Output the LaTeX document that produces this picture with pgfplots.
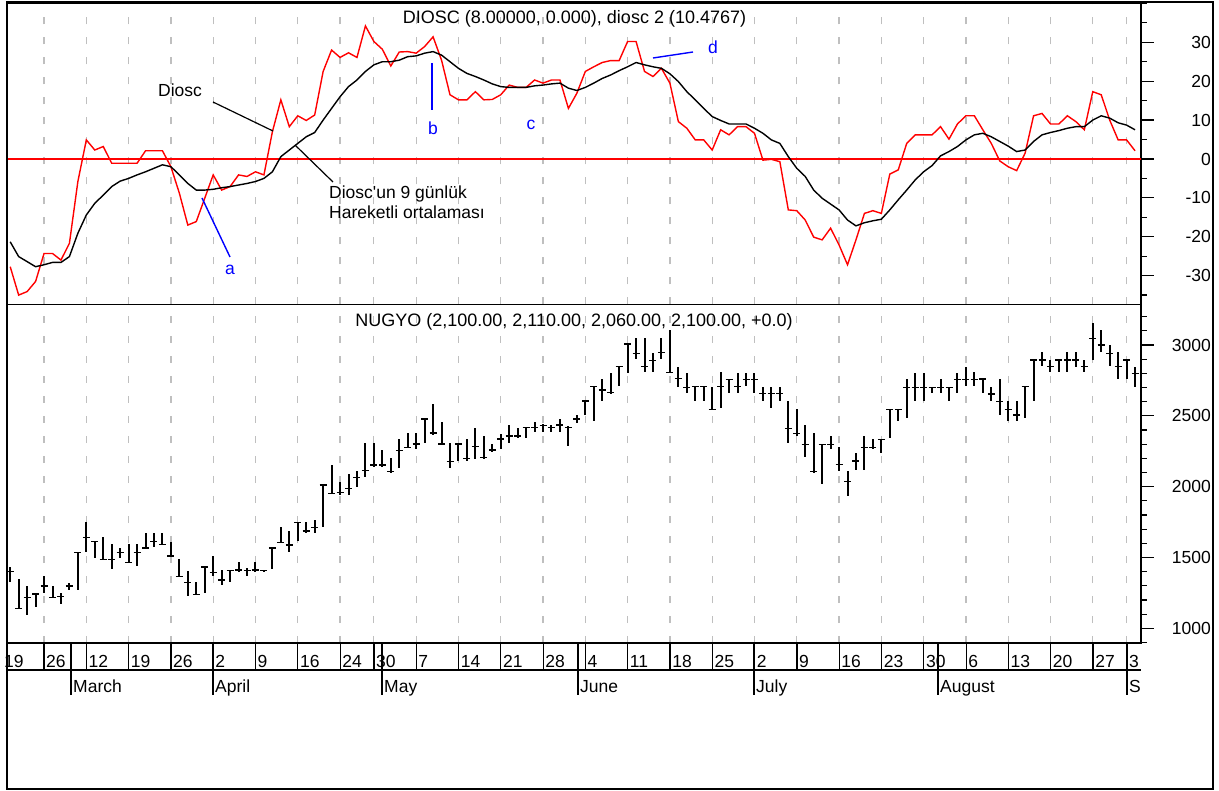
\documentclass[border=0pt]{standalone}
\usepackage{fontspec}
\setmainfont{Liberation Sans}
\usepackage{pgfplots}
\usepackage{pgfplotstable}
\pgfplotsset{compat=1.18}
\pgfdeclareplotmark{tickleft}{\pgfpathmoveto{\pgfqpoint{-\pgfplotmarksize}{0pt}}\pgfpathlineto{\pgfqpoint{0pt}{0pt}}\pgfusepathqstroke}
\pgfdeclareplotmark{tickright}{\pgfpathmoveto{\pgfqpoint{0pt}{0pt}}\pgfpathlineto{\pgfqpoint{\pgfplotmarksize}{0pt}}\pgfusepathqstroke}

\pgfplotstableread{
i d m
0 -27.7 -21.3
1 -35.0 -25.1
2 -34.1 -26.4
3 -31.5 -27.7
4 -24.3 -27.2
5 -24.3 -26.6
6 -26.0 -26.6
7 -21.7 -25.1
8 -5.8 -19.1
9 4.9 -14.4
10 2.3 -11.4
11 3.2 -9.3
12 -1.1 -7.1
13 -1.1 -5.7
14 -1.1 -5.0
15 -1.1 -4.1
16 2.1 -3.3
17 2.1 -2.4
18 2.1 -1.5
19 -2.0 -2.0
20 -8.8 -4.1
21 -17.0 -6.3
22 -16.1 -8.0
23 -10.1 -8.0
24 -4.1 -7.8
25 -8.0 -7.4
26 -7.1 -7.1
27 -4.1 -6.7
28 -4.5 -6.3
29 -3.3 -5.8
30 -4.1 -5.0
31 7.0 -3.3
32 15.2 0.6
33 8.3 2.3
34 11.1 4.0
35 9.9 5.7
36 11.3 6.8
37 22.5 10.0
38 28.0 13.0
39 26.1 16.0
40 27.3 18.6
41 26.1 20.3
42 34.2 22.5
43 30.2 24.2
44 28.2 25.0
45 23.9 25.0
46 27.5 25.4
47 27.6 26.3
48 27.2 26.5
49 28.9 27.2
50 31.4 27.6
51 25.4 26.7
52 16.5 25.0
53 15.2 23.3
54 15.2 22.0
55 17.3 21.2
56 15.2 20.3
57 15.3 19.3
58 16.5 18.6
59 19.0 18.4
60 18.4 18.4
61 18.4 18.4
62 20.3 18.8
63 19.5 19.0
64 20.3 19.3
65 20.3 19.5
66 13.0 18.2
67 16.9 17.6
68 22.5 18.4
69 23.7 19.5
70 24.8 20.7
71 25.3 21.6
72 25.3 22.7
73 30.2 23.7
74 30.2 24.8
75 22.5 24.2
76 21.2 23.7
77 23.3 23.3
78 19.5 21.9
79 9.6 19.9
80 7.9 17.3
81 4.9 15.2
82 4.9 13.0
83 2.3 10.9
84 7.5 9.9
85 6.2 9.0
86 8.3 9.0
87 8.3 9.0
88 6.6 7.9
89 -0.3 6.6
90 -0.1 4.9
91 -0.7 4.0
92 -13.1 0.6
93 -13.3 -2.4
94 -15.7 -4.5
95 -20.1 -8.0
96 -20.8 -10.1
97 -17.8 -11.6
98 -22.1 -13.1
99 -27.2 -15.7
100 -20.8 -17.2
101 -14.0 -16.4
102 -13.3 -15.9
103 -14.0 -15.5
104 -3.9 -13.1
105 -2.8 -10.5
106 4.0 -8.0
107 6.2 -5.4
108 6.2 -3.3
109 6.2 -1.7
110 8.3 0.8
111 5.1 1.9
112 9.0 3.2
113 11.1 4.9
114 11.1 6.2
115 7.5 6.6
116 4.0 5.7
117 -0.5 4.5
118 -2.0 3.3
119 -3.0 1.9
120 1.5 2.3
121 11.1 4.5
122 11.7 6.2
123 9.0 6.8
124 9.0 7.3
125 11.1 7.9
126 9.6 8.3
127 7.5 8.3
128 17.3 10.0
129 16.5 11.1
130 10.0 10.5
131 4.9 9.3
132 4.9 8.7
133 2.1 7.5
}\osc

\pgfplotstableread{
i h l c
0 1435 1329 1402
1 1346 1141 1141
2 1301 1094 1219
3 1242 1148 1242
4 1369 1247 1299
5 1301 1219 1219
6 1247 1172 1223
7 1317 1270 1299
8 1536 1270 1536
9 1748 1536 1642
10 1612 1494 1612
11 1647 1487 1487
12 1593 1416 1487
13 1569 1494 1534
14 1593 1463 1463
15 1593 1440 1534
16 1670 1565 1565
17 1670 1576 1612
18 1670 1588 1593
19 1612 1506 1510
20 1489 1365 1365
21 1405 1228 1322
22 1325 1235 1240
23 1431 1252 1431
24 1513 1369 1395
25 1412 1306 1341
26 1407 1329 1407
27 1466 1400 1412
28 1424 1369 1407
29 1470 1400 1412
30 1412 1402 1407
31 1565 1416 1565
32 1713 1607 1607
33 1689 1541 1588
34 1746 1619 1746
35 1748 1675 1687
36 1765 1675 1710
37 2012 1718 2012
38 2153 1948 1953
39 2035 1941 1958
40 2089 1941 1988
41 2113 1995 2066
42 2306 2071 2113
43 2306 2136 2153
44 2259 2136 2153
45 2205 2099 2106
46 2336 2129 2254
47 2381 2271 2278
48 2381 2264 2301
49 2478 2306 2478
50 2584 2365 2377
51 2459 2294 2301
52 2306 2129 2176
53 2301 2184 2301
54 2336 2184 2200
55 2416 2193 2282
56 2360 2200 2205
57 2301 2242 2259
58 2372 2264 2336
59 2435 2311 2358
60 2416 2341 2358
61 2416 2341 2416
62 2459 2384 2416
63 2440 2384 2433
64 2435 2384 2416
65 2475 2388 2435
66 2428 2287 2416
67 2506 2447 2477
68 2605 2506 2605
69 2706 2464 2706
70 2758 2607 2682
71 2805 2654 2664
72 2847 2711 2847
73 3007 2805 3007
74 3047 2899 2941
75 3047 2812 2847
76 2946 2807 2889
77 3047 2899 2948
78 3106 2805 2805
79 2847 2706 2765
80 2805 2664 2701
81 2706 2607 2706
82 2706 2607 2706
83 2706 2541 2546
84 2807 2553 2706
85 2758 2664 2758
86 2800 2664 2706
87 2805 2711 2758
88 2805 2664 2758
89 2706 2607 2659
90 2706 2553 2659
91 2706 2607 2659
92 2605 2306 2412
93 2548 2358 2376
94 2435 2207 2299
95 2381 2099 2106
96 2299 2016 2299
97 2358 2264 2299
98 2282 2113 2158
99 2113 1936 2035
100 2235 2118 2181
101 2358 2118 2277
102 2334 2264 2277
103 2334 2240 2334
104 2546 2341 2546
105 2546 2463 2546
106 2758 2482 2701
107 2805 2607 2701
108 2805 2607 2701
109 2701 2663 2701
110 2758 2663 2701
111 2701 2605 2701
112 2805 2663 2758
113 2847 2711 2758
114 2807 2711 2758
115 2760 2659 2760
116 2706 2605 2654
117 2760 2506 2600
118 2605 2464 2546
119 2605 2464 2506
120 2706 2487 2706
121 2894 2607 2894
122 2948 2852 2894
123 2894 2807 2847
124 2894 2807 2894
125 2948 2807 2894
126 2948 2847 2894
127 2894 2807 2847
128 3153 2894 3047
129 3106 2953 3000
130 3000 2852 2941
131 2948 2760 2847
132 2894 2760 2894
133 2847 2706 2800
}\bars

\pgfplotsset{
  chartbase/.style={
    scale only axis, width=1134pt, xmin=-0.38, xmax=133.7,
    axis line style={line width=1.6pt},
    xtick={4,9,14,19,24,29,34,39,43,48,53,58,63,68,73,78,83,88,93,98,103,108,113,118,123,128,132},
    xticklabels={}, xtick style={draw=none},
    xmajorgrids, major x grid style={gray!50, line width=1.2pt, dash pattern=on 7pt off 13pt},
    ytick pos=right, tick align=outside,
    major tick length=13pt, minor tick length=6pt,
    ytick style={black, line width=1.2pt},
    minor y tick style={black, line width=1.2pt},
    yticklabels={},
  }
}

\begin{document}
\begin{tikzpicture}[font=\fontsize{17.5}{20}\selectfont]
\path[use as bounding box] (0,0) rectangle (1219pt,-791pt);

\begin{axis}[chartbase, at={(7pt,-3pt)}, anchor=north west, height=301.5pt,
  ymin=-37.42, ymax=40.1,
  ytick={-30,-20,-10,0,10,20,30},
  minor ytick={-35,-25,-15,-5,5,15,25,35,40}]
\addplot[red, line width=1.5pt, forget plot] coordinates {(-0.38,0) (133.7,0)};
\addplot[red, line width=1.4pt] table[x=i,y=d]{\osc};
\addplot[black, line width=1.4pt] table[x=i,y=m]{\osc};
\end{axis}

\begin{axis}[chartbase, at={(7pt,-304.5pt)}, anchor=north west, height=338.5pt,
  ymin=896, ymax=3286,
  ytick={1000,1500,2000,2500,3000},
  minor ytick={900,1000,...,3200}]
\addplot[black, line width=1.5pt, only marks, mark=tickright, mark size=3.5pt,
  error bars/.cd, y dir=both, y explicit, error mark=none,
  error bar style={line width=2pt, black}]
  table[x=i, y=c, y error plus expr=\thisrow{h}-\thisrow{c}, y error minus expr=\thisrow{c}-\thisrow{l}]{\bars};
\addplot[black, line width=1.5pt, only marks, mark=tickleft, mark size=3.5pt] table[x=i, y=c]{\bars};
\end{axis}

% y tick labels (right aligned)
\begingroup\fontsize{18}{20}\selectfont
\foreach \yy/\lab in {42.3/30,81.2/20,120.1/10,159/0,197.9/-10,236.8/-20,275.7/-30,345/3000,415.8/2500,486.6/2000,557.5/1500,628.3/1000}{
  \node[anchor=east, inner sep=0pt] at (1211pt,-\yy pt) {\lab};
}
\endgroup

% titles
\node[anchor=base] at (574.5pt,-24pt) {\fontsize{18}{20}\selectfont DIOSC (8.00000, 0.000), diosc 2 (10.4767)};
\node[anchor=base] at (574pt,-327pt) {\fontsize{18}{20}\selectfont NUGYO (2,100.00, 2,110.00, 2,060.00, 2,100.00, +0.0)};

% annotations
\draw[black, line width=1.2pt] (213pt,-102pt) -- (273pt,-131pt);
\node at (180pt,-90pt) {Diosc};
\draw[black, line width=1.2pt] (295pt,-145pt) -- (333pt,-182pt);
\node[anchor=base west, inner sep=0pt] at (329pt,-199pt) {Diosc\textquotesingle un 9 günlük};
\node[anchor=base west, inner sep=0pt] at (329pt,-219pt) {Hareketli ortalaması};
\draw[blue, line width=1.4pt] (202pt,-198pt) -- (230pt,-257pt);
\node[blue] at (230pt,-270pt) {a};
\draw[blue, line width=1.4pt] (432pt,-63pt) -- (432pt,-110pt);
\node[blue] at (433pt,-128pt) {b};
\node[blue] at (531pt,-125pt) {c};
\draw[blue, line width=1.4pt] (653pt,-58pt) -- (693pt,-52pt);
\node[blue] at (713pt,-47pt) {d};

% date band
\node[anchor=base west, inner sep=0pt] at (4pt,-667pt) {19};
\foreach \i/\lab in {4/26,9/12,14/19,19/26,24/2,29/9,34/16,39/24,43/30,48/7,53/14,58/21,63/28,68/4,73/11,78/18,83/25,88/2,93/9,98/16,103/23,108/30,113/6,118/13,123/20,128/27,132/3}{
  \pgfmathsetmacro{\xx}{10.2+8.46*\i}
  \draw[line width=1.2pt] (\xx pt,-643pt) -- (\xx pt,-670pt);
  \node[anchor=base west, inner sep=0pt] at (\xx pt+2pt,-667pt) {\lab};
}
\draw[line width=1.2pt] (7pt,-670pt) -- (1141pt,-670pt);
\foreach \xx/\lab in {71/March,213/April,382/May,578/June,754/July,938/August,1127/S}{
  \draw[line width=1.2pt] (\xx pt,-643pt) -- (\xx pt,-695pt);
  \node[anchor=base west, inner sep=0pt] at (\xx pt+2pt,-692pt) {\lab};
}

% outer frame
\draw[line width=2pt] (7pt,-2pt) rectangle (1213pt,-789pt);
\end{tikzpicture}
\end{document}
